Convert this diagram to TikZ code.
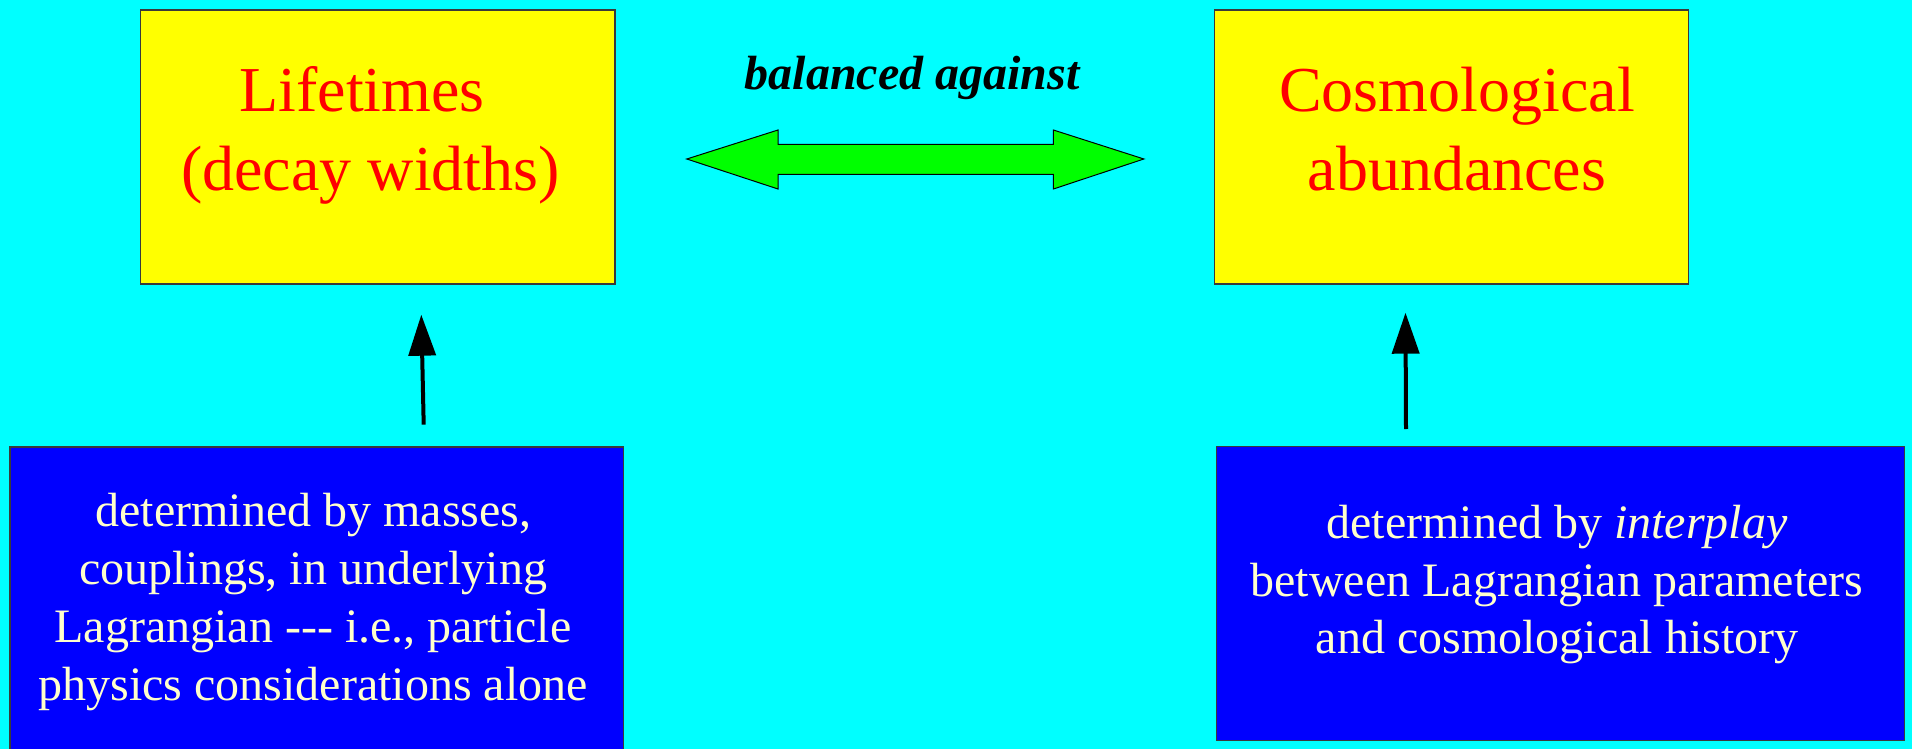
\documentclass[tikz,border=0pt]{standalone}
\usepackage{fontspec}
\setmainfont{Liberation Serif}
\usetikzlibrary{arrows.meta}
\definecolor{bgc}{HTML}{00FFFF}
\definecolor{yelc}{HTML}{FFFF00}
\definecolor{redc}{HTML}{FF0000}
\definecolor{grnc}{HTML}{00FF00}
\definecolor{bluc}{HTML}{0000FF}
\definecolor{crmc}{HTML}{FFFFCC}
\definecolor{edgec}{HTML}{3A3A3A}
\begin{document}
\begin{tikzpicture}[x=1pt,y=-1pt,
  ybox/.style={draw=edgec, line width=1.3pt, fill=yelc, inner sep=0pt, rectangle},
  bbox/.style={draw=edgec, line width=1.3pt, fill=bluc, inner sep=0pt, rectangle},
  ytext/.style={anchor=base, inner sep=0pt, text=redc, font=\fontsize{64}{74}\selectfont},
  btext/.style={anchor=base, inner sep=0pt, text=crmc, font=\fontsize{48}{58}\selectfont},
  ltext/.style={anchor=base, inner sep=0pt, text=black, font=\fontsize{48}{58}\selectfont\bfseries\itshape},
  uparrow/.style={draw=black, line width=4pt, -{Triangle[length=41pt,width=27pt]}},
  greenarrow/.style={fill=grnc, draw=black, line width=1pt, line join=miter}]
\fill[bgc] (0,0) rectangle (1912,749);
\useasboundingbox (0,0) rectangle (1912,749);

% yellow boxes
\node[ybox, minimum width=474.3pt, minimum height=274pt] (life) at (377.85,147) {};
\node[ybox, minimum width=473.8pt, minimum height=274pt] (cosmo) at (1451.5,147) {};
% blue boxes
\node[bbox, minimum width=613.7pt, minimum height=306pt] (pp) at (316.85,600) {};
\node[bbox, minimum width=688pt, minimum height=294pt] (inter) at (1560.6,593.7) {};

% yellow texts
\node[ytext] (life1) at (362,112) {Lifetimes};
\node[ytext] (life2) at (370.5,190) {(decay widths)};
\node[ytext] (cos1) at (1457,112) {Cosmological};
\node[ytext] (cos2) at (1457,190.5) {abundances};

% label
\node[ltext] (bal) at (912,90) {balanced against};

% blue texts
\node[btext] (pp1) at (313.5,526) {determined by masses,};
\node[btext] (pp2) at (313,584) {couplings, in underlying\ };
\node[btext] (pp3) at (313,642) {Lagrangian -{}-{}- i.e., particle};
\node[btext] (pp4) at (313,700) {physics considerations alone};
\node[btext] (in1) at (1557,538) {determined by \textit{interplay}};
\node[btext] (in2) at (1557,596) {between Lagrangian parameters};
\node[btext] (in3) at (1557,653) {and cosmological history};

% green double arrow
\filldraw[greenarrow] (686.8,159) -- (778,130) -- (778,144.3) -- (1053.4,144.3)
  -- (1053.4,130) -- (1143.9,159) -- (1053.4,189) -- (1053.4,174.3)
  -- (778,174.3) -- (778,189) -- cycle;

% up arrows
\coordinate (la0) at (423.7,424.7);
\coordinate (la1) at (421.3,314.7);
\coordinate (ra0) at (1406,429);
\coordinate (ra1) at (1405.5,312.7);
\draw[uparrow] (la0) -- (la1);
\draw[uparrow] (ra0) -- (ra1);
\end{tikzpicture}
\end{document}
